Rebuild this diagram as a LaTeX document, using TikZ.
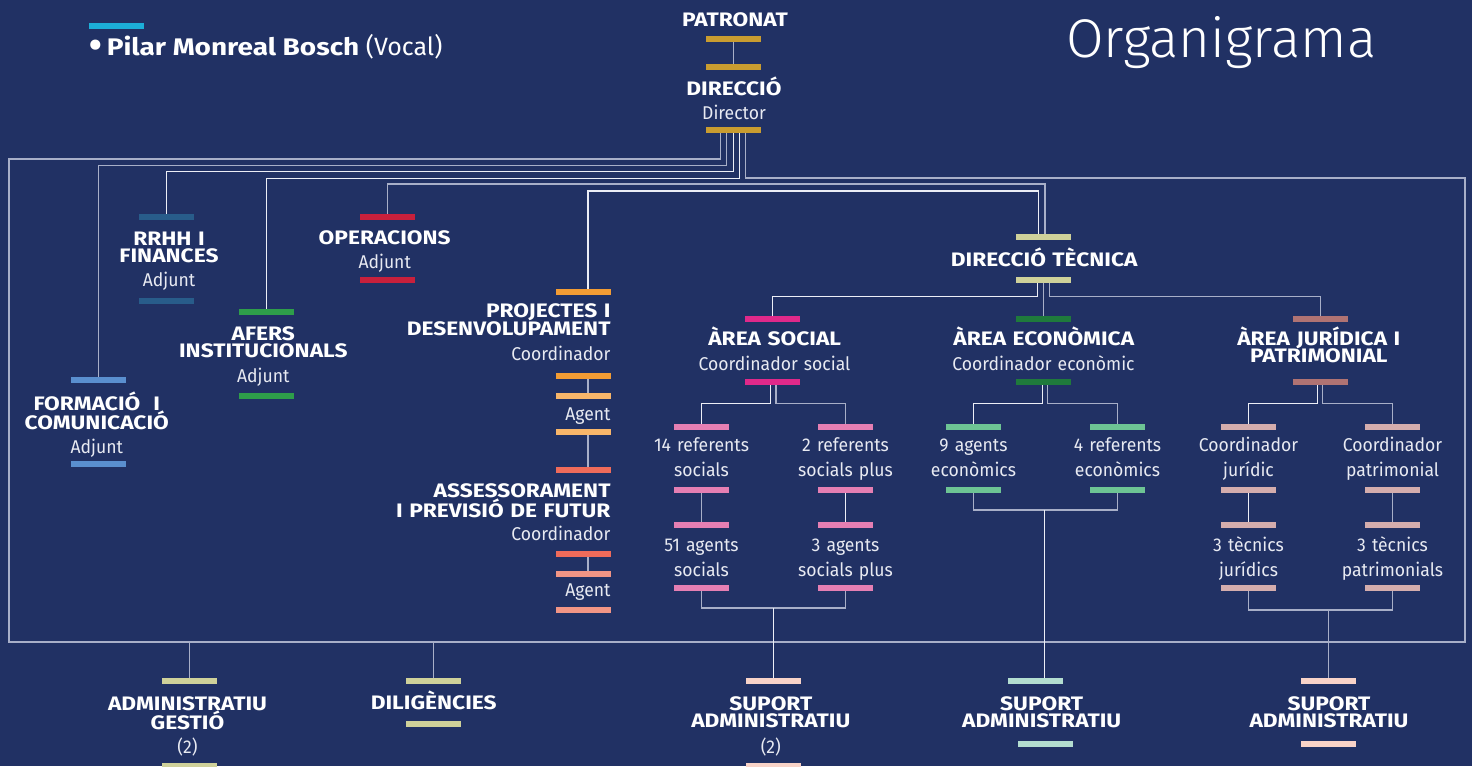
\documentclass[tikz,border=0pt]{standalone}
\usepackage{fontspec}
\setmainfont{Fira Sans}
\newfontfamily\headfont{Fira Sans}[FakeStretch=1.165]
\newfontfamily\rolefont{Fira Sans}[FakeStretch=0.95]
\IfFontExistsTF{Fira Sans Light}{\newfontfamily\titlefont{Fira Sans Light}}{\newfontfamily\titlefont{Fira Sans}}

\definecolor{bgnavy}{RGB}{33,49,100}
\definecolor{gold}{RGB}{201,156,48}
\definecolor{cyanbar}{RGB}{28,174,216}
\definecolor{steel}{RGB}{40,92,138}
\definecolor{redbar}{RGB}{200,32,60}
\definecolor{greenbar}{RGB}{46,158,74}
\definecolor{skyblue}{RGB}{90,143,207}
\definecolor{orangeA}{RGB}{243,156,52}
\definecolor{orangeB}{RGB}{248,182,106}
\definecolor{coralA}{RGB}{239,107,90}
\definecolor{coralB}{RGB}{241,149,133}
\definecolor{khaki}{RGB}{207,209,154}
\definecolor{socA}{RGB}{224,41,138}
\definecolor{socB}{RGB}{229,127,179}
\definecolor{ecoA}{RGB}{31,122,60}
\definecolor{ecoB}{RGB}{109,196,148}
\definecolor{jurA}{RGB}{176,115,115}
\definecolor{jurB}{RGB}{212,173,173}
\definecolor{peach}{RGB}{248,211,200}
\definecolor{mint}{RGB}{179,221,208}
\definecolor{lnw}{RGB}{236,238,246}
\definecolor{lng}{RGB}{168,175,200}
\definecolor{txt}{RGB}{232,234,242}

\begin{document}
\begin{tikzpicture}[x=1pt, y=-1pt,
  bar/.style={fill=#1, minimum width=55pt, minimum height=6pt, inner sep=0pt},
  link/.style={draw=lnw, line width=1.3pt},
  head/.style={text=white, font=\headfont\bfseries\fontsize{19.5}{17.7}\selectfont, text width=260pt, align=center, inner sep=0pt, anchor=base},
  role/.style={text=txt, font=\rolefont\fontsize{18.5}{24.3}\selectfont, text width=200pt, align=center, inner sep=0pt, anchor=base},
  rhead/.style={head, align=right, anchor=base east},
  rrole/.style={role, align=right, anchor=base east}]
\fill[bgnavy] (0,0) rectangle (1472,766);
\useasboundingbox (0,0) rectangle (1472,766);

% vocal and title
\node[bar=cyanbar] (voc) at (116.5,26) {};
\node[text=white, anchor=base west, inner sep=0pt, font=\fontsize{25}{30}\selectfont] (vocal) at (88,55) {\raisebox{-5pt}{\scalebox{1.8}{\textbullet}}\hspace{4pt}{\headfont\bfseries\fontsize{24}{30}\selectfont Pilar Monreal Bosch} (Vocal)};
\node[text=white, anchor=base west, inner sep=0pt, font=\titlefont\fontsize{54.5}{60}\selectfont] (title) at (1066,57) {Organigrama};

% patronat / direccio
\node[head] (tpat) at (735,26) {PATRONAT};
\node[bar=gold] (pat1) at (733.5,39) {};
\node[bar=gold] (pat2) at (733.5,67) {};
\node[head] (tdir) at (734,95) {DIRECCIÓ};
\node[role] (tdirr) at (734,119) {Director};
\node[bar=gold] (dir) at (733.5,130) {};

% adjunts
\node[bar=steel] (rrhh1) at (166.5,217) {};
\node[head] (trrhh) at (169,245) {RRHH I\\FINANCES};
\node[role] (trrhhr) at (169,286.7) {Adjunt};
\node[bar=steel] (rrhh2) at (166.5,301) {};

\node[bar=redbar] (oper1) at (387.5,217) {};
\node[head] (toper) at (384.7,244.3) {OPERACIONS};
\node[role] (toperr) at (384.7,268.3) {Adjunt};
\node[bar=redbar] (oper2) at (387.5,280) {};

\node[bar=greenbar] (afer1) at (266.5,312) {};
\node[head] (tafer) at (263.3,340) {AFERS\\INSTITUCIONALS};
\node[role] (taferr) at (263.3,382.3) {Adjunt};
\node[bar=greenbar] (afer2) at (266.5,396) {};

\node[bar=skyblue] (form1) at (98.5,380) {};
\node[head] (tform) at (96.8,410) {FORMACIÓ\ \ I\\COMUNICACIÓ};
\node[role] (tformr) at (96.8,453) {Adjunt};
\node[bar=skyblue] (form2) at (98.5,464) {};

% projectes / assessorament
\node[bar=orangeA] (proj1) at (583.5,292) {};
\node[rhead] (tproj) at (610.7,317.3) {PROJECTES I\\DESENVOLUPAMENT};
\node[rrole] (tprojr) at (610.7,360) {Coordinador};
\node[bar=orangeA] (proj2) at (583.5,376) {};
\node[bar=orangeB] (proj3) at (583.5,396) {};
\node[rrole] (tproja) at (610.7,420.7) {Agent};
\node[bar=orangeB] (proj4) at (583.5,432) {};
\node[bar=coralA] (ass1) at (583.5,470) {};
\node[rhead] (tass) at (610.7,497.3) {ASSESSORAMENT\\I PREVISIÓ DE FUTUR};
\node[rrole] (tassr) at (610.7,540) {Coordinador};
\node[bar=coralA] (ass2) at (583.5,554) {};
\node[bar=coralB] (ass3) at (583.5,574) {};
\node[rrole] (tassa) at (610.7,596.7) {Agent};
\node[bar=coralB] (ass4) at (583.5,610) {};

% direccio tecnica and arees
\node[bar=khaki] (dt1) at (1043.5,237) {};
\node[head] (tdt) at (1044.2,266.7) {DIRECCIÓ TÈCNICA};
\node[bar=khaki] (dt2) at (1043.5,280) {};

\node[bar=socA] (soc1) at (772.5,319) {};
\node[head] (tsoc) at (774.7,345) {ÀREA SOCIAL};
\node[role] (tsocr) at (774.5,370) {Coordinador social};
\node[bar=socA] (soc2) at (772.5,382) {};

\node[bar=ecoA] (eco1) at (1043.5,319) {};
\node[head] (teco) at (1043.8,345) {ÀREA ECONÒMICA};
\node[role] (tecor) at (1043.5,370) {Coordinador econòmic};
\node[bar=ecoA] (eco2) at (1043.5,382) {};

\node[bar=jurA] (jur1) at (1320.5,319) {};
\node[head] (tjur) at (1318.8,345) {ÀREA JURÍDICA I\\PATRIMONIAL};
\node[bar=jurA] (jur2) at (1320.5,382) {};

% area social
\node[bar=socB] (sa1) at (701.5,427) {};
\node[role] (tsa1) at (701.5,451.7) {14 referents\\socials};
\node[bar=socB] (sa2) at (701.5,490) {};
\node[bar=socB] (sa3) at (701.5,525) {};
\node[role] (tsa2) at (701.5,551.7) {51 agents\\socials};
\node[bar=socB] (sa4) at (701.5,588) {};
\node[bar=socB] (sb1) at (845.5,427) {};
\node[role] (tsb1) at (845.5,451.7) {2 referents\\socials plus};
\node[bar=socB] (sb2) at (845.5,490) {};
\node[bar=socB] (sb3) at (845.5,525) {};
\node[role] (tsb2) at (845.5,551.7) {3 agents\\socials plus};
\node[bar=socB] (sb4) at (845.5,588) {};

% area economica
\node[bar=ecoB] (ea1) at (973.5,427) {};
\node[role] (tea1) at (973.5,451.7) {9 agents\\econòmics};
\node[bar=ecoB] (ea2) at (973.5,490) {};
\node[bar=ecoB] (eb1) at (1117.5,427) {};
\node[role] (teb1) at (1117.5,451.7) {4 referents\\econòmics};
\node[bar=ecoB] (eb2) at (1117.5,490) {};

% area juridica
\node[bar=jurB] (ja1) at (1248.5,427) {};
\node[role] (tja1) at (1248.5,451.7) {Coordinador\\jurídic};
\node[bar=jurB] (ja2) at (1248.5,490) {};
\node[bar=jurB] (ja3) at (1248.5,525) {};
\node[role] (tja2) at (1248.5,551.7) {3 tècnics\\jurídics};
\node[bar=jurB] (ja4) at (1248.5,588) {};
\node[bar=jurB] (jb1) at (1392.5,427) {};
\node[role] (tjb1) at (1392.5,451.7) {Coordinador\\patrimonial};
\node[bar=jurB] (jb2) at (1392.5,490) {};
\node[bar=jurB] (jb3) at (1392.5,525) {};
\node[role] (tjb2) at (1392.5,551.7) {3 tècnics\\patrimonials};
\node[bar=jurB] (jb4) at (1392.5,588) {};

% bottom row
\node[bar=khaki] (adm1) at (189.5,681) {};
\node[head] (tadm) at (187.5,710) {ADMINISTRATIU\\GESTIÓ};
\node[role] (tadmn) at (187.5,753.3) {(2)};
\node[bar=khaki] (adm2) at (189.5,765.5) {};
\node[bar=khaki] (dil1) at (433.5,681) {};
\node[head] (tdil) at (433.7,709.3) {DILIGÈNCIES};
\node[bar=khaki] (dil2) at (433.5,724) {};
\node[bar=peach] (supS1) at (773.5,681) {};
\node[head] (tsupS) at (770.8,710) {SUPORT\\ADMINISTRATIU};
\node[role] (tsupSn) at (770.8,753) {(2)};
\node[bar=peach] (supS2) at (773.5,765.5) {};
\node[bar=mint] (supE1) at (1035.5,681) {};
\node[head] (tsupE) at (1041.7,710) {SUPORT\\ADMINISTRATIU};
\node[bar=mint] (supE2) at (1045.5,744) {};
\node[bar=peach] (supJ1) at (1328.5,681) {};
\node[head] (tsupJ) at (1329,710) {SUPORT\\ADMINISTRATIU};
\node[bar=peach] (supJ2) at (1328.5,744) {};

% connectors
\draw[link, draw=lng] (pat1) -- (pat2);
\draw[link, draw=lng] ([xshift=12pt]dir.south) |- (1465,178) |- (9,642) -- (9,159) -| ([xshift=-13pt]dir.south);
\draw[link, draw=lng] ([xshift=-7pt]dir.south) -- ++(0,32) -| (form1);
\draw[link] (dir.south) -- ++(0,38) -| (rrhh1);
\draw[link] ([xshift=6pt]dir.south) -- ++(0,45) -| (afer1);
\draw[link, draw=lng] (oper1) |- (1045,184) -- ([xshift=1.5pt]dt1.north);
\draw[link] ([xshift=4.5pt]proj1.north) |- (1038.5,191) -- ([xshift=-5pt]dt1.north);
\draw[link, draw=lng] ([xshift=4.5pt]proj2.south) -- ([xshift=4.5pt]proj3.north);
\draw[link, draw=lng] ([xshift=4.5pt]proj4.south) -- ([xshift=4.5pt]ass1.north);
\draw[link, draw=lng] ([xshift=4.5pt]ass2.south) -- ([xshift=4.5pt]ass3.north);

\draw[link] ([xshift=-6pt]dt2.south) -- ++(0,13) -| (soc1);
\draw[link, draw=lng] (dt2) -- (eco1);
\draw[link, draw=lng] ([xshift=6pt]dt2.south) -- ++(0,13) -| (jur1);

\draw[link] ([xshift=-2pt]soc2.south) -- ++(0,18) -| (sa1);
\draw[link, draw=lng] ([xshift=3.5pt]soc2.south) -- ++(0,18) -| (sb1);
\draw[link, draw=lng] (sa2) -- (sa3);
\draw[link] (sb2) -- (sb3);
\draw[link, draw=lng] (sa4) -- ++(0,20) -| (sb4);
\coordinate (sjoin) at (773.5,608);
\draw[link] (sjoin) -- (supS1);

\draw[link] ([xshift=-1pt]eco2.south) -- ++(0,18) -| (ea1);
\draw[link, draw=lng] ([xshift=4pt]eco2.south) -- ++(0,18) -| (eb1);
\draw[link, draw=lng] (ea2) -- ++(0,20) -| (eb2);
\coordinate (ejoin) at (1044.5,510);
\draw[link] (ejoin) -- (ejoin |- supE1.north);

\draw[link] ([xshift=-3pt]jur2.south) -- ++(0,18) -| (ja1);
\draw[link, draw=lng] ([xshift=2pt]jur2.south) -- ++(0,18) -| (jb1);
\draw[link] (ja2) -- (ja3);
\draw[link, draw=lng] (jb2) -- (jb3);
\draw[link, draw=lng] (ja4) -- ++(0,22) -| (jb4);
\coordinate (jjoin) at (1328.5,610);
\draw[link, draw=lng] (jjoin) -- (supJ1);

\draw[link, draw=lng] (adm1) -- ++(0,-39);
\draw[link, draw=lng] (dil1) -- ++(0,-39);
\end{tikzpicture}
\end{document}
